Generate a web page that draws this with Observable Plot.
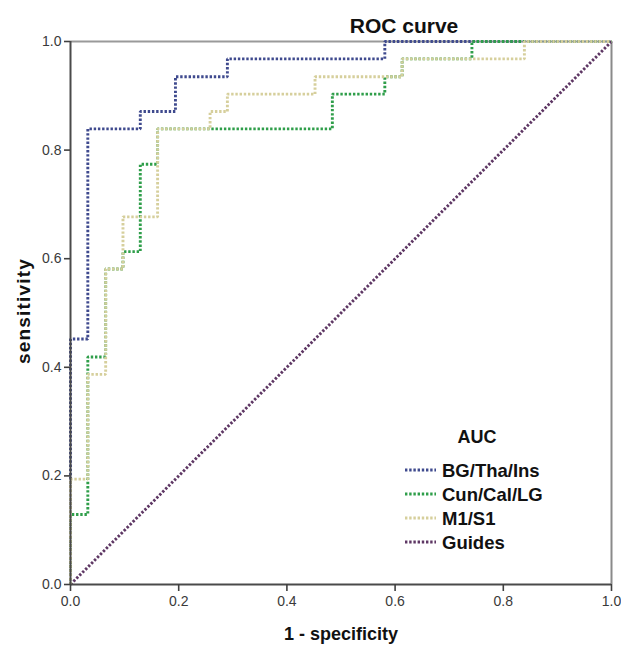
<!DOCTYPE html>
<html>
<head>
<meta charset="utf-8">
<script src="https://cdn.jsdelivr.net/npm/d3@7"></script>
<script src="https://cdn.jsdelivr.net/npm/@observablehq/plot@0.6"></script>
<style>
  html, body { margin: 0; padding: 0; background: #fff; }
  svg text { font-family: "Liberation Sans", Arial, sans-serif; }
</style>
</head>
<body>
<div id="chart"></div>
<script>
// ROC corner points (step-before: vertical first, then horizontal)
const blueFpr  = [0, 0.032, 0.129, 0.194, 0.290, 0.581, 1];
const blueTpr  = [0, 0.452, 0.839, 0.871, 0.935, 0.968, 1];
const greenFpr = [0, 0.032, 0.065, 0.097, 0.129, 0.161, 0.484, 0.581, 0.613, 0.742, 1];
const greenTpr = [0, 0.129, 0.419, 0.581, 0.613, 0.774, 0.839, 0.903, 0.935, 0.968, 1];
const tanFpr   = [0, 0.032, 0.065, 0.097, 0.161, 0.258, 0.290, 0.452, 0.613, 0.839, 1];
const tanTpr   = [0, 0.194, 0.387, 0.581, 0.677, 0.839, 0.871, 0.903, 0.935, 0.968, 1];
const guideFpr = [0, 1];
const guideTpr = [0, 1];

const seriesNames = ["BG/Tha/Ins", "Cun/Cal/LG", "M1/S1", "Guides"];
const seriesColors = ["#3f4a8e", "#2f9e4a", "#d6cf9c", "#5e3764"];
const ticks = [0, 0.2, 0.4, 0.6, 0.8, 1.0];

const toRows = (xs, ys) => xs.map((x, i) => ({x, y: ys[i]}));
const blue = toRows(blueFpr, blueTpr);
const green = toRows(greenFpr, greenTpr);
const tan = toRows(tanFpr, tanTpr);
const guides = toRows(guideFpr, guideTpr);

const dash = "2.4,1.8";
const sw = 2.9;
const lineStyle = {strokeWidth: sw, strokeDasharray: dash, strokeLinecap: "butt", strokeLinejoin: "miter"};

const chart = Plot.plot({
  width: 621,
  height: 646,
  marginLeft: 70,
  marginRight: 10,
  marginTop: 41,
  marginBottom: 62,
  x: {domain: [0, 1]},
  y: {domain: [0, 1]},
  style: {fontFamily: "Liberation Sans, Arial, sans-serif", fontSize: "14px", color: "#3a3a3a", background: "#fff"},
  marks: [
    Plot.ruleY([1], {stroke: "#9a9a9a", strokeWidth: 2}),
    Plot.ruleX([1], {stroke: "#8a8a8a", strokeWidth: 2}),
    Plot.line(guides, {x: "x", y: "y", stroke: seriesColors[3], ...lineStyle}),
    Plot.line(blue, {x: "x", y: "y", curve: "step-before", stroke: seriesColors[0], ...lineStyle}),
    Plot.line(green, {x: "x", y: "y", curve: "step-before", stroke: seriesColors[1], ...lineStyle}),
    Plot.line(tan, {x: "x", y: "y", curve: "step-before", stroke: seriesColors[2], ...lineStyle}),
    Plot.ruleX([0], {stroke: "#4a4a4a", strokeWidth: 2}),
    Plot.ruleY([0], {stroke: "#4a4a4a", strokeWidth: 2}),
    Plot.axisX({ticks, tickFormat: d3.format(".1f"), tickSize: 7, tickPadding: 5, label: null, stroke: "#404040", strokeWidth: 1.6}),
    Plot.axisY({ticks, tickFormat: d3.format(".1f"), tickSize: 6, tickPadding: 3, label: null, stroke: "#404040", strokeWidth: 1.6})
  ]
});

document.getElementById("chart").appendChild(chart);

const svg = d3.select(chart);
// Title
svg.append("text").attr("x", 404).attr("y", 33).attr("text-anchor", "middle")
  .attr("font-size", 21).attr("font-weight", "bold").attr("fill", "#111").text("ROC curve");
// Axis titles
svg.append("text").attr("x", 341).attr("y", 640).attr("text-anchor", "middle")
  .attr("font-size", 18).attr("font-weight", "bold").attr("fill", "#111").text("1 - specificity");
svg.append("text").attr("transform", "translate(30,311) rotate(-90)").attr("text-anchor", "middle")
  .attr("font-size", 19).attr("letter-spacing", 1.2).attr("font-weight", "bold").attr("fill", "#111").text("sensitivity");

// Legend
const lg = svg.append("g");
lg.append("text").attr("x", 477).attr("y", 443).attr("text-anchor", "middle")
  .attr("font-size", 18).attr("font-weight", "bold").attr("fill", "#111").text("AUC");
const rowY = [470, 494, 518, 542];
seriesNames.forEach((name, i) => {
  lg.append("line").attr("x1", 405).attr("x2", 436).attr("y1", rowY[i]).attr("y2", rowY[i])
    .attr("stroke", seriesColors[i]).attr("stroke-width", sw).attr("stroke-dasharray", dash);
  lg.append("text").attr("x", 442).attr("y", rowY[i]).attr("dy", "0.36em").attr("text-anchor", "start")
    .attr("font-size", 18.5).attr("font-weight", "bold").attr("fill", "#111").text(name);
});
</script>
</body>
</html>
